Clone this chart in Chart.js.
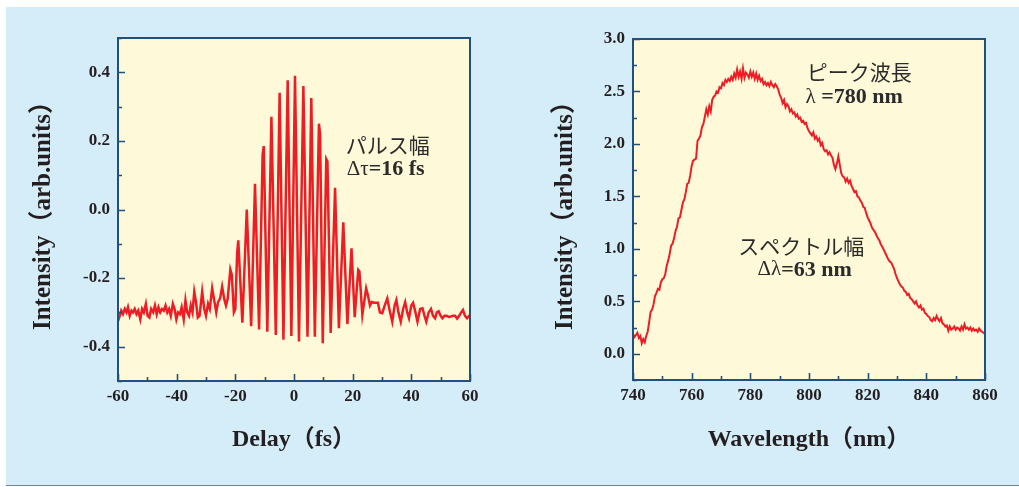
<!DOCTYPE html>
<html>
<head>
<meta charset="utf-8">
<script src="https://cdn.jsdelivr.net/npm/chart.js@4.4.1/dist/chart.umd.min.js"></script>
<style>
  html, body { margin:0; padding:0; background:#ffffff; }
  body { width:1019px; height:487px; position:relative; overflow:hidden; }
  #bg { position:absolute; left:6px; top:7px; width:1013px; height:478px; background:#d5ecf9; }
  #rule { position:absolute; left:6px; top:485px; width:1013px; height:1px; background:#71879a; }
  .box { position:absolute; top:0; height:487px; }
  #boxL { left:0; width:510px; }
  #boxR { left:510px; width:509px; }
</style>
</head>
<body>
<div id="bg"></div>
<div id="rule"></div>
<div class="box" id="boxL"><canvas id="cL" width="510" height="487"></canvas></div>
<div class="box" id="boxR"><canvas id="cR" width="509" height="487"></canvas></div>
<script>
// ---------- data: autocorrelation (left) ----------
const delayFs = [
 -60.0,-59.4,-58.9,-58.3,-57.7,-57.1,-56.6,-56.0,-55.4,-54.9,-54.3,-53.7,-53.1,-52.4,-51.8,-51.2,-50.5,-49.9,-49.3,-48.7,
 -48.0,-47.4,-46.8,-46.2,-45.6,-45.0,-44.4,-43.8,-43.2,-42.6,-42.0,-41.3,-40.7,-40.1,-39.5,-38.9,-38.3,-37.6,-37.0,-36.4,
 -35.8,-35.2,-34.6,-34.0,-33.4,-32.8,-32.2,-31.3,-30.6,-30.0,-29.3,-28.7,-27.9,-27.2,-26.5,-25.9,-25.2,-24.5,-23.8,-23.2,
 -22.6,-21.7,-21.2,-20.5,-20.0,-19.4,-19.0,-17.6,-16.1,-14.6,-13.3,-11.9,-10.7,-10.3,-9.1,-7.7,-6.2,-4.9,-3.6,-2.15,
 -0.9,0.34,1.7,3.2,4.6,5.9,7.1,8.5,8.9,9.8,11.0,11.4,12.5,14.0,15.3,16.8,18.2,19.6,20.7,21.9,
 22.3,23.3,24.6,25.2,25.9,26.5,27.3,28.6,29.3,30.1,30.9,31.8,32.5,33.5,34.3,34.9,35.6,36.4,37.2,37.9,
 38.6,39.2,40.0,40.6,41.4,42.1,43.0,43.8,44.5,45.1,45.9,46.7,47.4,48.1,48.7,49.3,50.0,50.6,51.3,52.0,
 52.8,53.5,54.2,54.9,55.6,56.3,57.0,57.6,58.3,59.0,59.7,60.0
];
const delaySignal = [
 -0.325,-0.31,-0.295,-0.305,-0.29,-0.30,-0.285,-0.31,-0.295,-0.30,-0.29,-0.305,-0.295,-0.32,-0.29,-0.30,-0.275,-0.31,-0.315,-0.29,
 -0.30,-0.28,-0.305,-0.285,-0.30,-0.29,-0.295,-0.28,-0.30,-0.29,-0.31,-0.275,-0.29,-0.32,-0.30,-0.305,-0.285,-0.32,-0.265,-0.30,
 -0.31,-0.28,-0.30,-0.24,-0.27,-0.315,-0.31,-0.24,-0.29,-0.31,-0.275,-0.29,-0.23,-0.265,-0.30,-0.27,-0.26,-0.225,-0.26,-0.28,
 -0.26,-0.175,-0.19,-0.30,-0.29,-0.13,-0.09,-0.33,0.0,-0.34,0.075,-0.35,0.16,0.185,-0.356,0.27,-0.366,0.34,-0.38,0.377,
 -0.369,0.39,-0.385,0.36,-0.371,0.325,-0.371,0.25,0.22,-0.39,0.147,0.14,-0.36,0.063,-0.346,-0.037,-0.334,-0.113,-0.314,-0.176,
 -0.18,-0.307,-0.23,-0.25,-0.28,-0.27,-0.272,-0.272,-0.30,-0.302,-0.28,-0.259,-0.29,-0.327,-0.28,-0.264,-0.30,-0.327,-0.29,-0.27,
 -0.30,-0.317,-0.28,-0.272,-0.30,-0.327,-0.29,-0.288,-0.31,-0.327,-0.30,-0.29,-0.31,-0.317,-0.30,-0.297,-0.31,-0.317,-0.31,-0.31,
 -0.313,-0.312,-0.31,-0.31,-0.318,-0.31,-0.30,-0.293,-0.31,-0.317,-0.31,-0.307
];

// ---------- data: spectrum (right), sampled every 0.5 nm from 740 nm ----------
const specStartNm = 740, specStepNm = 0.5;
const specIntensity = [
 0.19,0.16, 0.18,0.20, 0.15,0.17, 0.10,0.14, 0.11,0.17, 0.21,0.30, 0.40,0.42, 0.47,0.55, 0.58,0.62, 0.61,0.68,
 0.71,0.72, 0.76,0.84, 0.89,0.95, 1.03,1.05, 1.10,1.17, 1.21,1.29, 1.30,1.37, 1.44,1.47, 1.54,1.62, 1.63,1.70,
 1.79,1.84, 1.85,1.86, 2.03,2.05, 2.08,2.16, 2.19,2.26, 2.33,2.28, 2.36,2.31, 2.42,2.45, 2.46,2.50, 2.49,2.54,
 2.53,2.58, 2.56,2.61, 2.59,2.62, 2.60,2.64, 2.61,2.67, 2.63,2.71, 2.64,2.69, 2.62,2.72, 2.63,2.68, 2.66,2.63,
 2.69,2.64, 2.68,2.62, 2.67,2.61, 2.65,2.60, 2.62,2.57, 2.59,2.56, 2.58,2.55, 2.59,2.56, 2.54,2.57, 2.55,2.52,
 2.47,2.44, 2.39,2.42, 2.35,2.38, 2.36,2.31, 2.33,2.29, 2.30,2.26, 2.28,2.24, 2.25,2.21, 2.22,2.19, 2.20,2.15,
 2.12,2.10, 2.08,2.11, 2.05,2.07, 2.03,2.05, 1.99,2.01, 1.95,1.93, 1.94,1.90, 1.92,1.89, 1.87,1.80, 1.76,1.81,
 1.88,1.80, 1.72,1.69, 1.68,1.64, 1.67,1.63, 1.65,1.60, 1.57,1.54, 1.55,1.50, 1.49,1.46, 1.44,1.40, 1.39,1.34,
 1.30,1.27, 1.24,1.20, 1.18,1.16, 1.13,1.10, 1.08,1.04, 1.02,0.99, 0.96,0.93, 0.90,0.88, 0.87,0.84, 0.81,0.76,
 0.72,0.69, 0.66,0.64, 0.63,0.60, 0.59,0.56, 0.57,0.53, 0.52,0.50, 0.48,0.50, 0.46,0.44, 0.46,0.42, 0.43,0.39,
 0.38,0.36, 0.35,0.32, 0.31,0.34, 0.32,0.36, 0.33,0.31, 0.34,0.29, 0.28,0.26, 0.27,0.22, 0.26,0.23, 0.24,0.26,
 0.23,0.25, 0.24,0.22, 0.26,0.23, 0.28,0.24, 0.25,0.23, 0.25,0.22, 0.24,0.22, 0.23,0.21, 0.24,0.22, 0.21,0.20,
 0.19
];

// ---------- axis definitions ----------
const delayAxis = { min:-60, max:60, step:10, labelEvery:20 };
const delayYAxis = { min:-0.5, max:0.5, step:0.1 };
const waveAxis = { min:740, max:860, step:10, labelEvery:20 };
const waveYAxis = { min:-0.25, max:3.0, step:0.25 };

// ---------- styles ----------
const LINE_RED = '#ee1c25';
const PLOT_BG = '#fefad9';
const FRAME = '#22507d';
const TEXT = '#231f20';
const SERIF = '"Liberation Serif", "Times New Roman", "Noto Sans CJK JP", serif';
const CJK = '"Noto Sans CJK JP", sans-serif';

const framePlugin = {
  id: 'frame',
  beforeDraw(chart) {
    const {ctx, chartArea: a} = chart;
    ctx.save();
    ctx.fillStyle = PLOT_BG;
    ctx.fillRect(a.left, a.top, a.right - a.left, a.bottom - a.top);
    ctx.restore();
  },
  afterDraw(chart, args, opts) {
    const {ctx, chartArea: a} = chart;
    const xs = chart.scales.x, ys = chart.scales.y;
    ctx.save();
    ctx.strokeStyle = FRAME;
    ctx.lineWidth = 1.6;
    ctx.beginPath();
    xs.ticks.forEach(t => {
      const px = Math.round(xs.getPixelForValue(t.value)) + 0.5;
      const len = t.label !== '' ? 7 : 4;
      ctx.moveTo(px, a.bottom); ctx.lineTo(px, a.bottom - len);
    });
    ys.ticks.forEach(t => {
      const py = Math.round(ys.getPixelForValue(t.value)) + 0.5;
      const len = t.label !== '' ? 7 : 4;
      ctx.moveTo(a.left, py); ctx.lineTo(a.left + len, py);
    });
    ctx.stroke();
    ctx.lineWidth = 2;
    ctx.strokeRect(a.left, a.top, a.right - a.left, a.bottom - a.top);
    // annotations
    (opts.notes || []).forEach(n => {
      let total = 0;
      n.parts.forEach(p => { ctx.font = p.font; p.w = ctx.measureText(p.text).width; total += p.w; });
      let x = xs.getPixelForValue(n.x);
      const y = ys.getPixelForValue(n.y);
      if (n.align === 'center') x -= total / 2;
      ctx.fillStyle = '#2b2b2b';
      ctx.textBaseline = 'middle';
      ctx.textAlign = 'left';
      n.parts.forEach(p => { ctx.font = p.font; ctx.fillText(p.text, x, y); x += p.w; });
    });
    ctx.restore();
  }
};

function makeScales(xa, ya, xTitle, yTitle, yTitlePad, yWidth, xHeight, yLabel) {
  const tickFont = { family: SERIF, size: 17, weight: 'bold' };
  return {
    x: {
      type: 'linear', min: xa.min, max: xa.max,
      afterFit: s => { s.height = xHeight; },
      grid: { display: false, drawTicks: false },
      border: { display: false },
      ticks: {
        stepSize: xa.step, autoSkip: false, maxRotation: 0, padding: 5,
        color: TEXT, font: tickFont,
        callback: v => (Math.round(v) % xa.labelEvery === 0 ? String(Math.round(v)) : '')
      },
      title: { display: true, text: xTitle, color: TEXT,
        font: { family: SERIF, size: 24, weight: 'bold' }, padding: { top: 0, bottom: 33 } }
    },
    y: {
      type: 'linear', min: ya.min, max: ya.max,
      afterFit: s => { s.width = yWidth; },
      grid: { display: false, drawTicks: false },
      border: { display: false },
      ticks: {
        stepSize: ya.step, autoSkip: false, padding: 8,
        color: TEXT, font: tickFont, callback: yLabel
      },
      title: { display: true, text: yTitle, color: TEXT,
        font: { family: SERIF, size: 25, weight: 'bold' }, padding: { top: yTitlePad, bottom: 0 } }
    }
  };
}

const commonPlugins = (notes) => ({
  legend: { display: false }, tooltip: { enabled: false }, frame: { notes }
});

// left chart
new Chart(document.getElementById('cL'), {
  type: 'line',
  data: { datasets: [{
    data: delayFs.map((t, i) => ({ x: t, y: delaySignal[i] })),
    borderColor: LINE_RED, borderWidth: 2.5, pointRadius: 0, tension: 0, fill: false
  }]},
  options: {
    responsive: false, animation: false, devicePixelRatio: 1,
    layout: { padding: { left: 0, top: 38, right: 40, bottom: 0 } },
    scales: makeScales(delayAxis, delayYAxis, 'Delay（fs）', 'Intensity（arb.units）', 29, 118, 106,
      v => { const k = Math.round(v * 10); return (k % 2 === 0 && Math.abs(k) <= 4) ? (k / 10).toFixed(1) : ''; }),
    plugins: commonPlugins([
      { x: 17.6, y: 0.189, align: 'left', parts: [{ text: 'パルス幅', font: '21px ' + CJK }] },
      { x: 18.0, y: 0.116, align: 'left', parts: [
        { text: 'Δτ', font: '21px ' + SERIF },
        { text: '=16 fs', font: 'bold 22px ' + SERIF }] }
    ])
  },
  plugins: [framePlugin]
});

// right chart
const specPoints = specIntensity.map((v, i) => ({ x: specStartNm + i * specStepNm, y: v }));
new Chart(document.getElementById('cR'), {
  type: 'line',
  data: { datasets: [{
    data: specPoints,
    borderColor: LINE_RED, borderWidth: 2, pointRadius: 0, tension: 0, fill: false
  }]},
  options: {
    responsive: false, animation: false, devicePixelRatio: 1,
    layout: { padding: { left: 0, top: 39, right: 34, bottom: 0 } },
    scales: makeScales(waveAxis, waveYAxis, 'Wavelength（nm）', 'Intensity（arb.units）', 41, 123, 107,
      v => { const k = Math.round(v * 4); return (k % 2 === 0 && k >= 0) ? (k / 4).toFixed(1) : ''; }),
    plugins: commonPlugins([
      { x: 799.2, y: 2.684, align: 'left', parts: [{ text: 'ピーク波長', font: '21px ' + CJK }] },
      { x: 798.8, y: 2.445, align: 'left', parts: [
        { text: 'λ', font: '21px ' + SERIF },
        { text: ' =780 nm', font: 'bold 22px ' + SERIF }] },
      { x: 797.4, y: 1.03, align: 'center', parts: [{ text: 'スペクトル幅', font: '21px ' + CJK }] },
      { x: 798.5, y: 0.80, align: 'center', parts: [
        { text: 'Δλ', font: '21px ' + SERIF },
        { text: '=63 nm', font: 'bold 22px ' + SERIF }] }
    ])
  },
  plugins: [framePlugin]
});
</script>
</body>
</html>
